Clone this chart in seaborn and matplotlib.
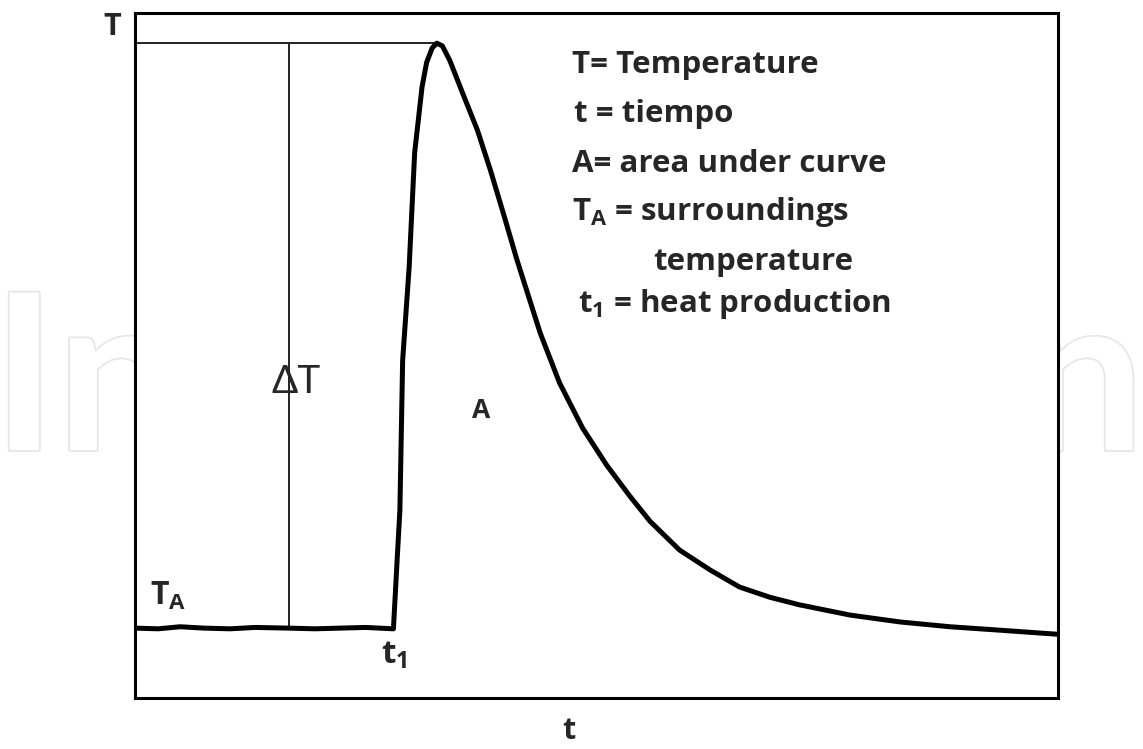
"""
plot.py — sketch of a temperature vs. time curve (heat production peak).

Run:
    python plot.py
"""

import matplotlib
matplotlib.use("Agg")
import matplotlib.pyplot as plt
import matplotlib.patheffects as pe
import pandas as pd
import seaborn as sns

# ── Data ──────────────────────────────────────────────────────────────────────
# time (arbitrary units, 0–100) and temperature (arbitrary units, 0–100)
TIME = [
    0.0, 2.5, 4.9, 7.5, 10.3, 13.0, 16.7, 19.5, 22.2, 25.0, 28.0,
    28.4, 28.7, 29.0, 29.7, 30.3, 31.1, 31.6, 32.2, 32.7, 33.3,
    34.1, 35.5, 37.1, 38.5, 39.9, 41.4, 43.9, 46.0, 48.5, 51.1, 53.6,
    55.8, 59.0, 62.3, 65.5, 68.8, 72.0, 77.5, 82.9, 88.3, 93.7, 100.0,
]
TEMP = [
    10.2, 10.1, 10.4, 10.2, 10.1, 10.3, 10.2, 10.1, 10.2, 10.3, 10.1,
    20.1, 27.4, 49.3, 62.8, 79.6, 89.2, 92.8, 94.9, 95.6, 95.2,
    93.1, 88.3, 82.9, 77.1, 70.8, 63.9, 53.3, 46.0, 39.4, 34.0, 29.5,
    25.8, 21.6, 18.7, 16.2, 14.7, 13.6, 12.1, 11.1, 10.4, 9.9, 9.3,
]

DT_MARK_T = 16.7                      # where the ΔT bar is drawn

LEGEND_LINES = [
    "T= Temperature",
    "t = tiempo",
    "A= area under curve",
    "T$_\\mathrm{A}$ = surroundings",
    "temperature",
    "t$_\\mathrm{1}$ = heat production",
]

OUT_PATH = "out.png"


# ── Helpers ───────────────────────────────────────────────────────────────────

def setup_style():
    sns.set_theme(style="white")
    plt.rcParams["font.family"] = ["Open Sans", "DejaVu Sans"]
    plt.rcParams["mathtext.fontset"] = "custom"
    plt.rcParams["mathtext.rm"] = "Open Sans:bold"
    plt.rcParams["mathtext.bf"] = "Open Sans:bold"


def plot_curve(output_path):
    df = pd.DataFrame({"t": TIME, "T": TEMP})
    base_T = df["T"].iloc[0]
    peak = df.loc[df["T"].idxmax()]

    fig = plt.figure(figsize=(11.43, 7.49), dpi=100)
    ax = fig.add_axes([0.1181, 0.0681, 0.8075, 0.9145])
    ax.set_facecolor("white")

    # faint publisher watermark behind the axes
    fig.text(
        -8 / 1143, 0.399, "IntechOpen", fontsize=157, fontweight="bold",
        family="Lato", color="white", ha="left", va="baseline", zorder=-1,
        path_effects=[pe.withStroke(linewidth=2.5, foreground="#e6e6e6")],
    )

    # guide lines (peak level + ΔT bar)
    ax.hlines(peak["T"], 0, peak["t"], color="#222222", linewidth=1.4, zorder=1)
    ax.vlines(DT_MARK_T, base_T, peak["T"], color="#222222", linewidth=1.4, zorder=1)

    sns.lineplot(
        data=df, x="t", y="T", color="black", linewidth=3.6,
        estimator=None, sort=False, ax=ax, zorder=2,
    )

    ax.set_xlim(0, 100)
    ax.set_ylim(0, 100)
    ax.set_xticks([])
    ax.set_yticks([])
    ax.set_xlabel("")
    ax.set_ylabel("")
    for sp in ax.spines.values():
        sp.set_visible(True)
        sp.set_color("black")
        sp.set_linewidth(2.2)

    # axis letters
    ax.text(-2.5, 98.0, "T", fontsize=22, fontweight="bold", ha="center",
            va="center", clip_on=False)
    ax.text(47.0, -4.8, "t", fontsize=22, fontweight="bold", ha="center",
            va="center", clip_on=False)

    # in-plot labels
    ax.text(1.6, 13.6, "T$_\\mathrm{A}$", fontsize=23, fontweight="bold",
            va="baseline")
    ax.text(26.7, 5.1, "t$_\\mathrm{1}$", fontsize=24, fontweight="bold",
            va="baseline")
    ax.text(14.8, 44.5, "ΔT", fontsize=28, family="Lato", va="baseline")
    ax.text(36.5, 40.9, "A", fontsize=19, fontweight="bold", va="baseline")

    # legend block
    xs = [47.3, 47.6, 47.3, 47.3, 56.1, 48.0]
    ys = [91.2, 84.1, 76.8, 69.8, 62.5, 56.4]
    for txt, x, y in zip(LEGEND_LINES, xs, ys):
        ax.text(x, y, txt, fontsize=22.5, fontweight="bold", va="baseline")

    fig.savefig(output_path, dpi=100)
    plt.close(fig)
    print(f"saved → {output_path}")


# ── Main ──────────────────────────────────────────────────────────────────────

if __name__ == "__main__":
    setup_style()
    plot_curve(OUT_PATH)
